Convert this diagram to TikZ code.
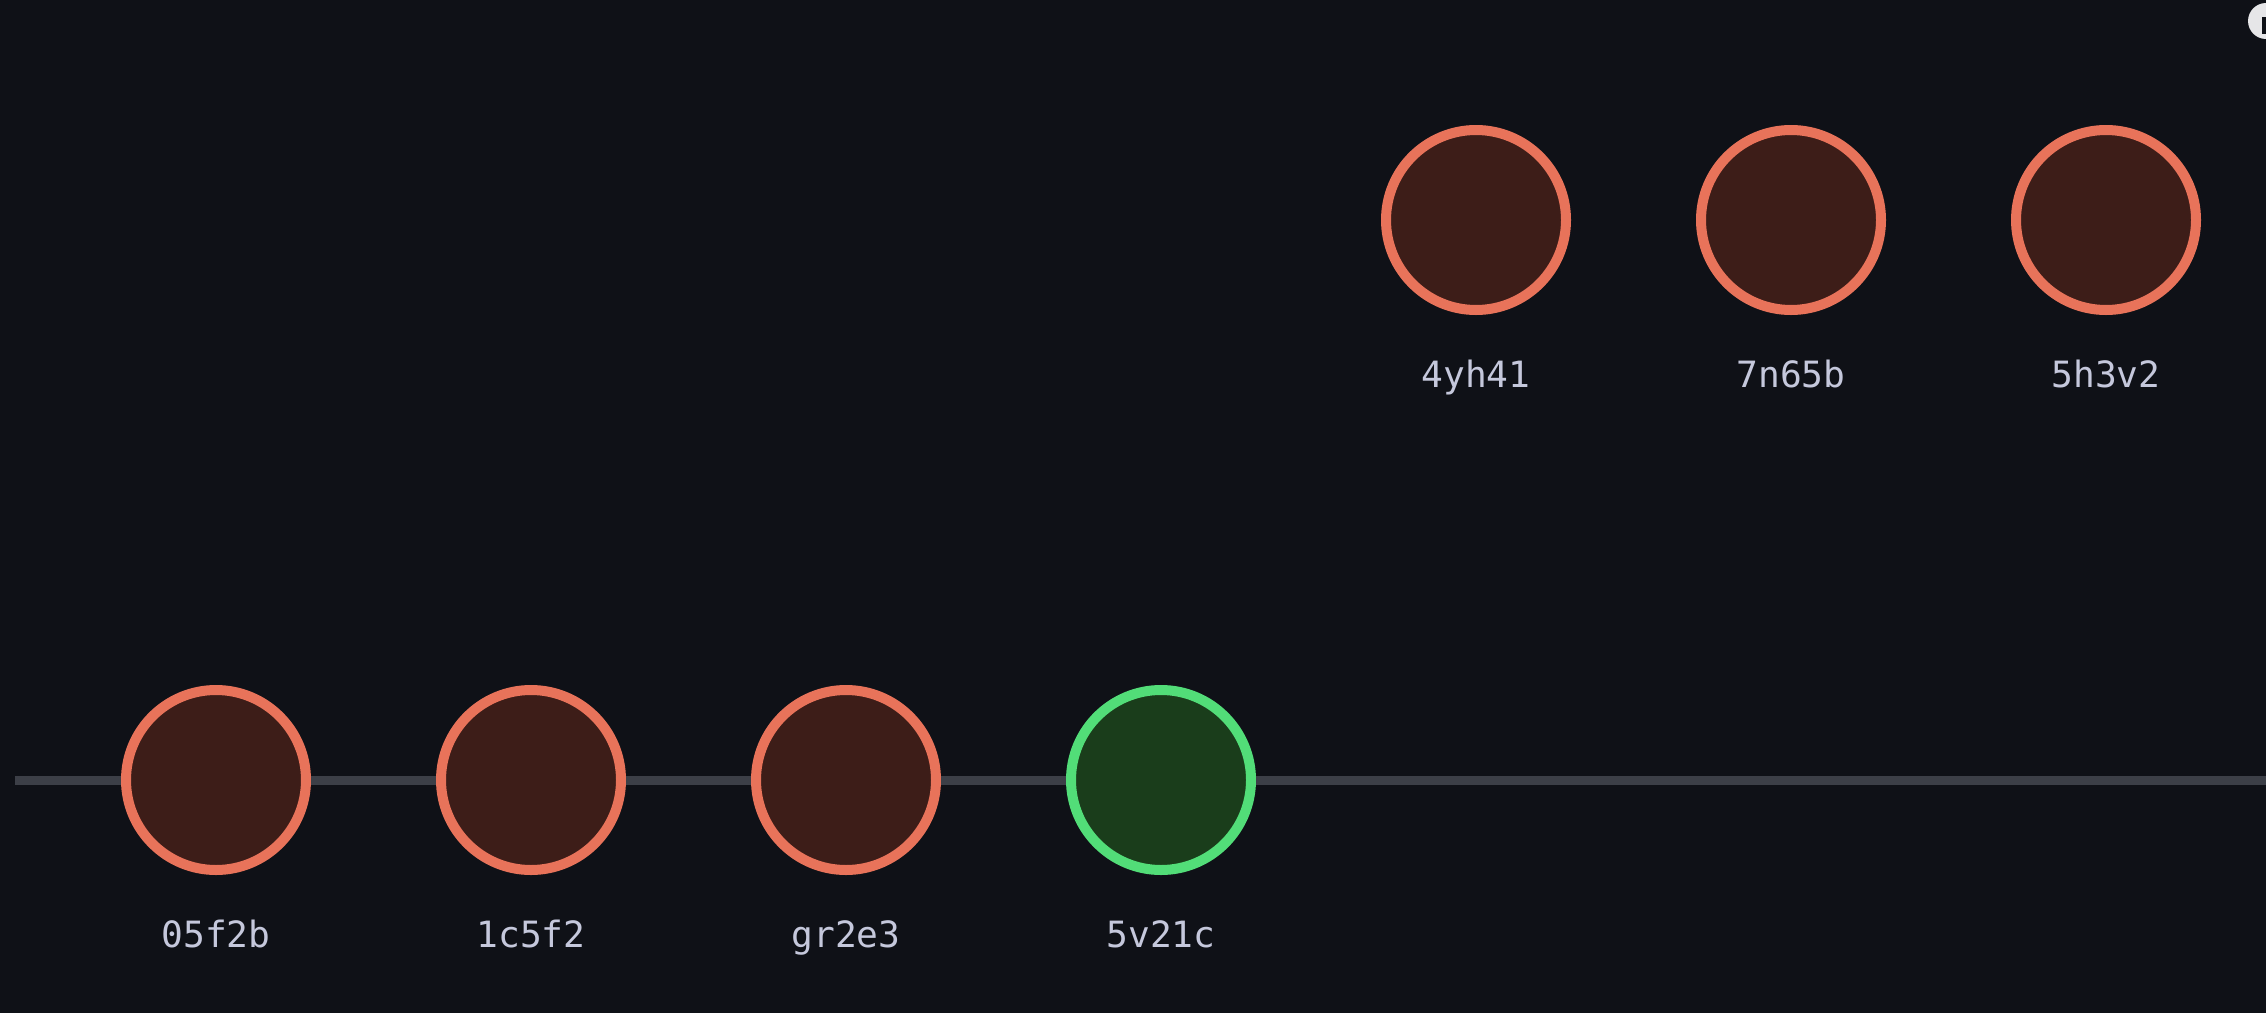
\documentclass[tikz,border=0pt]{standalone}
\usepackage{fontspec}
\setmonofont{DejaVu Sans Mono}
\usetikzlibrary{positioning}
\definecolor{bgdark}{HTML}{0F1117}
\definecolor{redline}{HTML}{E8735A}
\definecolor{redfill}{HTML}{3D1D18}
\definecolor{greenline}{HTML}{52DD78}
\definecolor{greenfill}{HTML}{1A3D1B}
\definecolor{trackgray}{HTML}{3C3F47}
\definecolor{hashgray}{HTML}{C5C8DC}
\definecolor{infowhite}{HTML}{E6E6E8}
\tikzset{
  commit/.style={circle,draw=redline,fill=redfill,line width=1mm,
    minimum size=18mm,inner sep=0pt},
  head/.style={commit,draw=greenline,fill=greenfill},
  hash/.style={text=hashgray,inner sep=0pt,
    font=\fontsize{10.3}{12}\selectfont\ttfamily},
  track/.style={draw=trackgray,line width=0.9mm}
}

\begin{document}
\begin{tikzpicture}
\useasboundingbox (0,0) rectangle (22.66,10.12);
\fill[bgdark] (-0.1,-0.1) rectangle (22.76,10.22);
% commits on the line
\node[commit] (c05f2b) at (2.16,2.32) {};
\node[commit,right=1.25cm of c05f2b] (c1c5f2) {};
\node[commit,right=1.25cm of c1c5f2] (cgr2e3) {};
\node[head,right=1.25cm of cgr2e3] (c5v21c) {};
% detached commits
\node[commit] (c4yh41) at (14.76,7.92) {};
\node[commit,right=1.25cm of c4yh41] (c7n65b) {};
\node[commit,right=1.25cm of c7n65b] (c5h3v2) {};
% hashes
\node[hash,below=0.72cm of c05f2b,anchor=base] (l05f2b) {05f2b};
\node[hash,below=0.72cm of c1c5f2,anchor=base] (l1c5f2) {1c5f2};
\node[hash,below=0.72cm of cgr2e3,anchor=base] (lgr2e3) {gr2e3};
\node[hash,below=0.72cm of c5v21c,anchor=base] (l5v21c) {5v21c};
\node[hash,below=0.72cm of c4yh41,anchor=base] (l4yh41) {4yh41};
\node[hash,below=0.72cm of c7n65b,anchor=base] (l7n65b) {7n65b};
\node[hash,below=0.72cm of c5h3v2,anchor=base] (l5h3v2) {5h3v2};
% the line
\coordinate (trackstart) at (0.15,2.32);
\coordinate (trackend) at (22.76,2.32);
\draw[track] (trackstart) -- (c05f2b) -- (c1c5f2) -- (cgr2e3) -- (c5v21c)
  -- (trackend);
% corner icon
\begin{scope}
\clip (0,0) rectangle (22.66,10.12);
\fill[infowhite] (22.66,9.91) circle (0.18);
\fill[bgdark] (22.62,9.78) rectangle (22.66,9.95);
\end{scope}
\end{tikzpicture}
\end{document}
